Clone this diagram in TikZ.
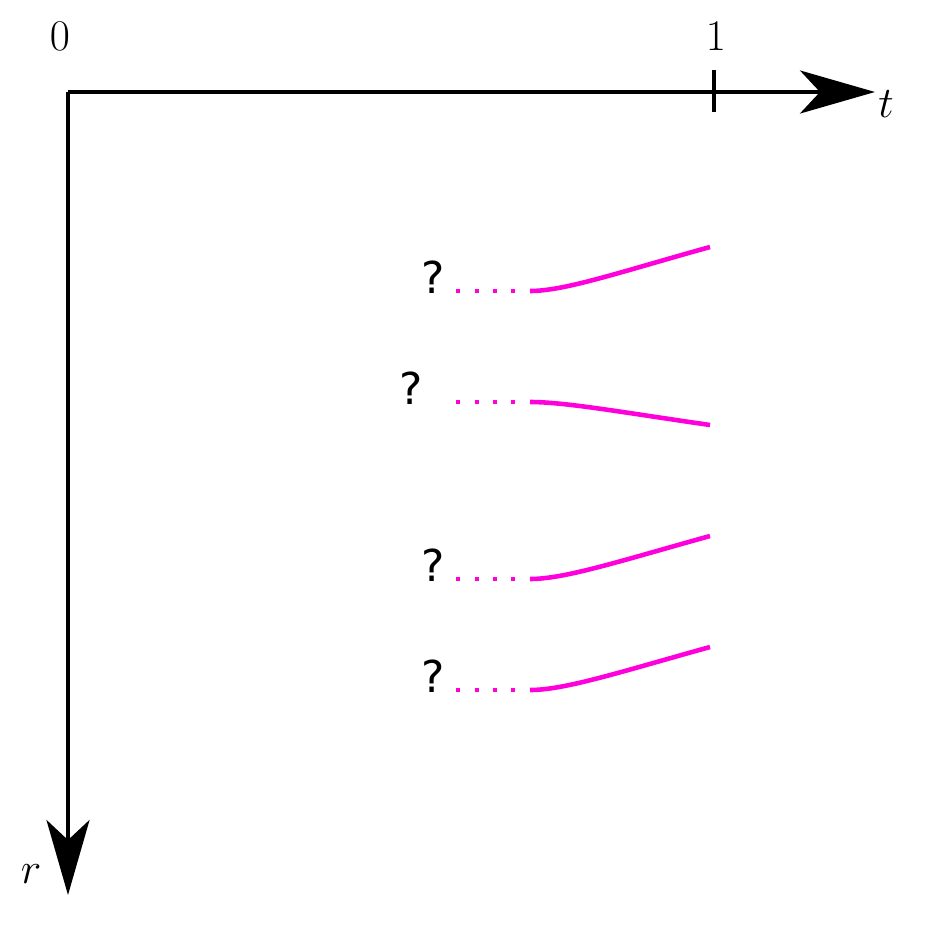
\documentclass[tikz,border=0pt]{standalone}
\usepackage{amsmath, amssymb}
\usepackage{fontspec}
\newfontfamily\qfont{DejaVu Sans}
\usepackage{tikz}
\usetikzlibrary{arrows.meta}
\definecolor{branchmagenta}{RGB}{255,0,221}

\begin{document}
\begin{tikzpicture}[x=0.02cm, y=-0.02cm,
    axis/.style={line width=2.3pt, -{Stealth[length=1.5cm, width=0.86cm, inset=0.4cm]}},
    branch/.style={line width=2.6pt, draw=branchmagenta},
    unknown/.style={branch, dash pattern=on 0.08cm off 0.29cm},
    qmark/.style={font=\qfont\fontsize{25}{30}\selectfont},
    lbl/.style={font=\fontsize{26}{30}\selectfont}]
    \useasboundingbox (0,0) rectangle (939,936);

    %% the axes
    \coordinate (O) at (68,92);
    \coordinate (tend) at (875,92);
    \coordinate (rend) at (68,895);
    \draw[axis] (O) -- (tend);
    \draw[axis] (O) -- (rend);
    \node[lbl] (tlabel) at (886,104) {\(t\)};
    \node[lbl] (rlabel) at (31,874) {\(r\)};
    \node[lbl] (zero) at (60,36) {\(0\)};

    %% the tick at t=1
    \coordinate (ticktop) at (714,70);
    \coordinate (tickbot) at (714,112);
    \draw[line width=2.3pt] (ticktop) -- (tickbot);
    \node[lbl] (one) at (716,36) {\(1\)};

    %% first branch
    \node[qmark] (q1) at (433,277) {?};
    \coordinate (a1) at (456,291);
    \coordinate (b1) at (530,291);
    \coordinate (c1) at (710,247);
    \draw[unknown] (a1) -- (b1);
    \draw[branch] (b1) .. controls (565,291) and (620,272) .. (c1);

    %% second branch
    \node[qmark] (q2) at (411,388) {?};
    \coordinate (a2) at (456,402);
    \coordinate (b2) at (530,402);
    \coordinate (c2) at (710,425);
    \draw[unknown] (a2) -- (b2);
    \draw[branch] (b2) .. controls (565,402) and (620,412) .. (c2);

    %% third branch
    \node[qmark] (q3) at (433,565) {?};
    \coordinate (a3) at (456,579);
    \coordinate (b3) at (530,579);
    \coordinate (c3) at (710,536);
    \draw[unknown] (a3) -- (b3);
    \draw[branch] (b3) .. controls (565,579) and (620,561) .. (c3);

    %% fourth branch
    \node[qmark] (q4) at (433,676) {?};
    \coordinate (a4) at (456,690);
    \coordinate (b4) at (530,690);
    \coordinate (c4) at (710,647);
    \draw[unknown] (a4) -- (b4);
    \draw[branch] (b4) .. controls (565,690) and (620,672) .. (c4);
\end{tikzpicture}
\end{document}
